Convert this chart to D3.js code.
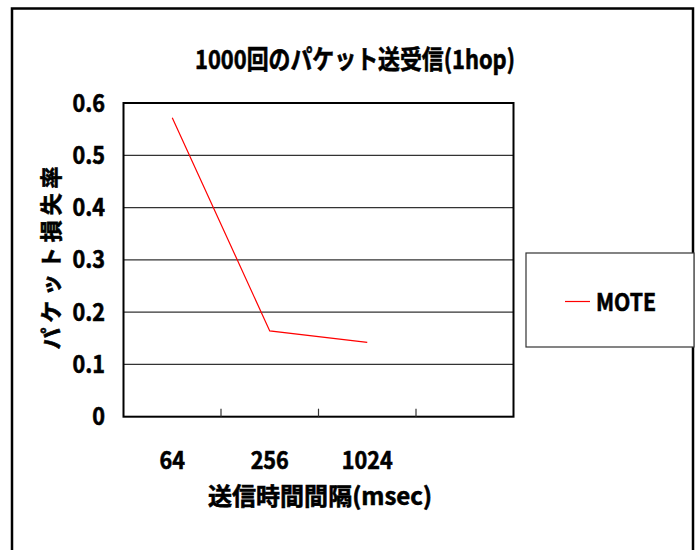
<!DOCTYPE html>
<html><head><meta charset="utf-8">
<script src="https://cdn.jsdelivr.net/npm/d3@7"></script>
<style>
html,body{margin:0;padding:0;background:#fff;}
text{font-family:"Noto Sans CJK JP","Noto Sans",sans-serif;font-weight:700;fill:#000;stroke:#000;stroke-width:0.6px;}
</style></head>
<body><svg id="c" width="696" height="550"></svg>
<script>
const categories = ["64", "256", "1024"];
const moteValues = [0.572, 0.164, 0.142];
const yTicks = [0, 0.1, 0.2, 0.3, 0.4, 0.5, 0.6];
const yTickLabels = ["0", "0.1", "0.2", "0.3", "0.4", "0.5", "0.6"];
const seriesName = "MOTE";
const titleText = "1000回のパケット送受信(1hop)";
const xTitle = "送信時間間隔(msec)";
const yTitle = "パケット損失率";

const svg = d3.select("#c");
const L = 123.5, R = 513.5, T = 103, B = 416.7;
const slots = 4;

function condense(sel, f) {
  sel.each(function () {
    const w = this.getComputedTextLength();
    d3.select(this).attr("textLength", w * f).attr("lengthAdjust", "spacingAndGlyphs");
  });
}

// outer frame
svg.append("rect").attr("x", 12).attr("y", 8.5).attr("width", 681).attr("height", 560)
  .attr("fill", "none").attr("stroke", "#000").attr("stroke-width", 2.5);

const x = d3.scaleBand().domain(categories).range([L, L + (R - L) * categories.length / slots]);
const y = d3.scaleLinear().domain([0, 0.6]).range([B, T]);

// gridlines
svg.append("g").selectAll("line").data(yTicks.filter(v => v > 0 && v < 0.6)).join("line")
  .attr("x1", L).attr("x2", R).attr("y1", d => y(d)).attr("y2", d => y(d))
  .attr("stroke", "#333").attr("stroke-width", 1.3);

// plot border
svg.append("rect").attr("x", L).attr("y", T).attr("width", R - L).attr("height", B - T)
  .attr("fill", "none").attr("stroke", "#000").attr("stroke-width", 2);

// x tick marks at band boundaries (inward)
svg.append("g").selectAll("line").data(categories).join("line")
  .attr("x1", d => x(d) + x.bandwidth()).attr("x2", d => x(d) + x.bandwidth())
  .attr("y1", B - 8).attr("y2", B).attr("stroke", "#333").attr("stroke-width", 1.2);

// y tick labels
svg.append("g").selectAll("text").data(yTicks).join("text")
  .attr("x", 105).attr("y", d => y(d)).attr("dy", "0.36em")
  .attr("text-anchor", "end").attr("font-size", 24)
  .text((d, i) => yTickLabels[i]).call(condense, 0.9);

// x tick labels
svg.append("g").selectAll("text").data(categories).join("text")
  .attr("x", d => x(d) + x.bandwidth() / 2).attr("y", 460).attr("dy", "0.36em")
  .attr("text-anchor", "middle").attr("font-size", 24)
  .text(d => d).call(condense, 0.9);

// line
const line = d3.line().x((d, i) => x(categories[i]) + x.bandwidth() / 2).y(d => y(d));
svg.append("path").datum(moteValues).attr("d", line)
  .attr("fill", "none").attr("stroke", "#ff0000").attr("stroke-width", 1.2);

// title
svg.append("text").attr("x", 195).attr("y", 60).attr("dy", "0.36em")
  .attr("font-size", 26).attr("textLength", 320).attr("lengthAdjust", "spacingAndGlyphs")
  .text(titleText);

// x title
svg.append("text").attr("x", 208).attr("y", 496).attr("dy", "0.36em")
  .attr("font-size", 24).attr("textLength", 224).attr("lengthAdjust", "spacingAndGlyphs")
  .text(xTitle);

// y title
svg.append("text").attr("transform", "translate(51,258) rotate(-90)")
  .attr("x", -91.5).attr("dy", "0.36em")
  .attr("font-size", 22).attr("textLength", 183).attr("lengthAdjust", "spacing")
  .text(yTitle);

// legend
svg.append("rect").attr("x", 526).attr("y", 253).attr("width", 168).attr("height", 94)
  .attr("fill", "#fff").attr("stroke", "#333").attr("stroke-width", 1.2);
svg.append("line").attr("x1", 565).attr("x2", 590).attr("y1", 301.5).attr("y2", 301.5)
  .attr("stroke", "#ff0000").attr("stroke-width", 1.2);
svg.append("text").attr("x", 596).attr("y", 302).attr("dy", "0.36em")
  .attr("font-size", 24).attr("textLength", 60).attr("lengthAdjust", "spacingAndGlyphs")
  .text(seriesName);
</script></body></html>
